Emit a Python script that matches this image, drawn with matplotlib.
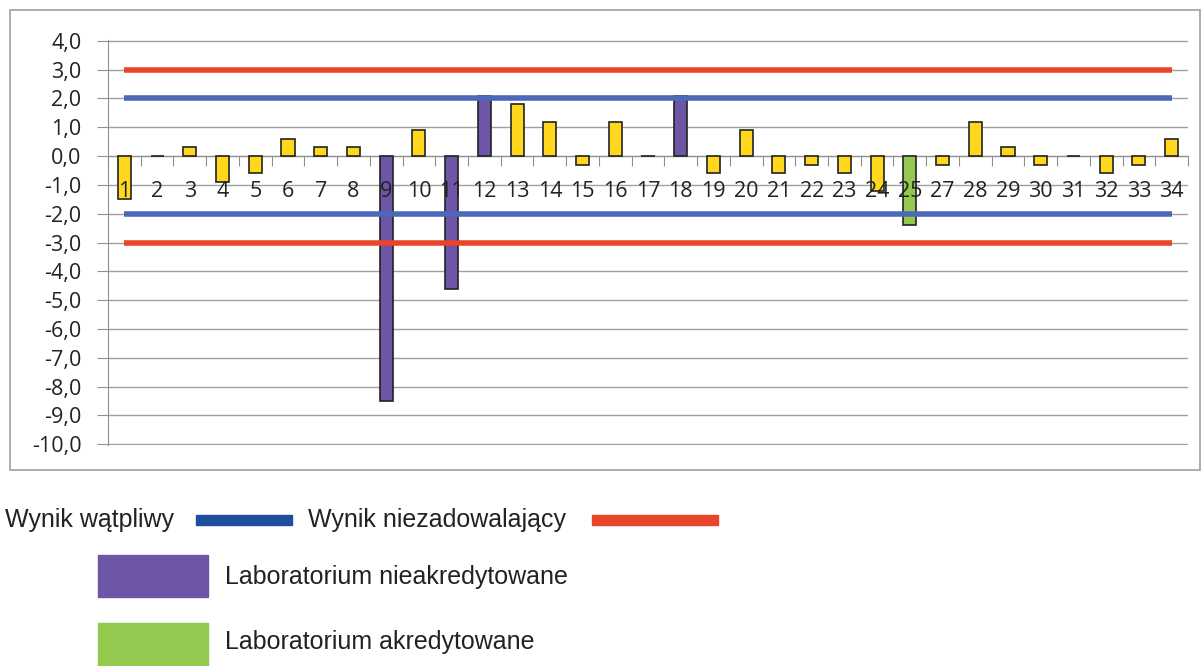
import matplotlib
matplotlib.use("Agg")
import matplotlib.pyplot as plt
from matplotlib.patches import Rectangle

labels = [str(i) for i in range(1, 26)] + [str(i) for i in range(27, 35)]
values = [-1.5, 0.0, 0.3, -0.9, -0.6, 0.6, 0.3, 0.3, -8.5, 0.9,
          -4.6, 2.1, 1.8, 1.2, -0.3, 1.2, 0.0, 2.1, -0.6, 0.9,
          -0.6, -0.3, -0.6, -1.2, -2.4,
          -0.3, 1.2, 0.3, -0.3, 0.0, -0.6, -0.3, 0.6]
# status: 'n' = nieakredytowane, 'a' = akredytowane, '' = other
status = ['', '', '', '', '', '', '', '', 'n', '',
          'n', 'n', '', '', '', '', '', 'n', '', '',
          '', '', '', '', 'a',
          '', '', '', '', '', '', '', '']
doubtful = [2.0, -2.0]
unsatisfactory = [3.0, -3.0]

YELLOW = "#FFD81E"
PURPLE = "#6E55A6"
GREEN = "#92C94E"
BLUE = "#4C68BA"
RED = "#E8452A"
BLUE_LEG = "#1D4F9E"
RED_LEG = "#E8452A"

colors = {'': YELLOW, 'n': PURPLE, 'a': GREEN}

fig = plt.figure(figsize=(12.04, 6.66), dpi=100)
ax = fig.add_axes([108 / 1204, 1 - 445 / 666, (1188 - 108) / 1204, (445 - 40) / 666])

x = list(range(len(labels)))
ax.bar(x, values, width=0.4, color=[colors[s] for s in status],
       edgecolor="#222222", linewidth=1.2, zorder=3)

for v in doubtful:
    ax.plot(x, [v] * len(x), color=BLUE, linewidth=4, solid_capstyle="butt", zorder=4)
for v in unsatisfactory:
    ax.plot(x, [v] * len(x), color=RED, linewidth=4, solid_capstyle="butt", zorder=4)

ax.set_ylim(-10.03, 4.03)
ax.set_xlim(-0.5, len(labels) - 0.5)
ax.set_yticks(range(-10, 5))
ax.set_yticklabels([f"{v},0" for v in range(-10, 5)], fontsize=15.5,
                   fontfamily="Open Sans", color="#222222")
ax.yaxis.grid(True, color="#A0A0A0", linewidth=1)
ax.set_axisbelow(True)

for s in ["top", "right"]:
    ax.spines[s].set_visible(False)
ax.spines["left"].set_color("#909090")
ax.spines["bottom"].set_position(("data", 0))
ax.spines["bottom"].set_color("#909090")
ax.tick_params(axis="y", length=8, color="#909090", pad=11)

ax.set_xticks([i - 0.5 for i in range(len(labels) + 1)])
ax.set_xticklabels([])
ax.tick_params(axis="x", which="major", length=7, color="#909090", direction="out")
ax.set_xticks(x, minor=True)
ax.set_xticklabels(labels, minor=True, fontsize=15.5, fontfamily="Open Sans", color="#222222")
ax.tick_params(axis="x", which="minor", length=0, pad=18)
# category labels sit on top of the bars
ax.xaxis.set_zorder(5)

# outer frame
fig.patches.append(Rectangle((10 / 1204, 1 - 470 / 666), 1190 / 1204, 460 / 666,
                             transform=fig.transFigure, fill=False,
                             edgecolor="#A0A0A0", linewidth=1.2))

# legend drawn below the chart
def fx(px):
    return px / 1204

def fy(py):
    return 1 - py / 666

lf = dict(fontsize=18, fontfamily="Liberation Sans", color="#222222", va="center")
fig.text(fx(5), fy(520), "Wynik wątpliwy", **lf)
fig.patches.append(Rectangle((fx(196), fy(525)), fx(96), 10 / 666,
                             transform=fig.transFigure, color=BLUE_LEG))
fig.text(fx(308), fy(520), "Wynik niezadowalający", **lf)
fig.patches.append(Rectangle((fx(592), fy(525)), fx(126), 10 / 666,
                             transform=fig.transFigure, color=RED_LEG))
fig.patches.append(Rectangle((fx(98), fy(597)), fx(110), 42 / 666,
                             transform=fig.transFigure, color=PURPLE))
fig.text(fx(225), fy(577), "Laboratorium nieakredytowane", **lf)
fig.patches.append(Rectangle((fx(98), fy(666)), fx(110), 43 / 666,
                             transform=fig.transFigure, color=GREEN))
fig.text(fx(225), fy(642), "Laboratorium akredytowane", **lf)

fig.savefig("out.png", dpi=100)
